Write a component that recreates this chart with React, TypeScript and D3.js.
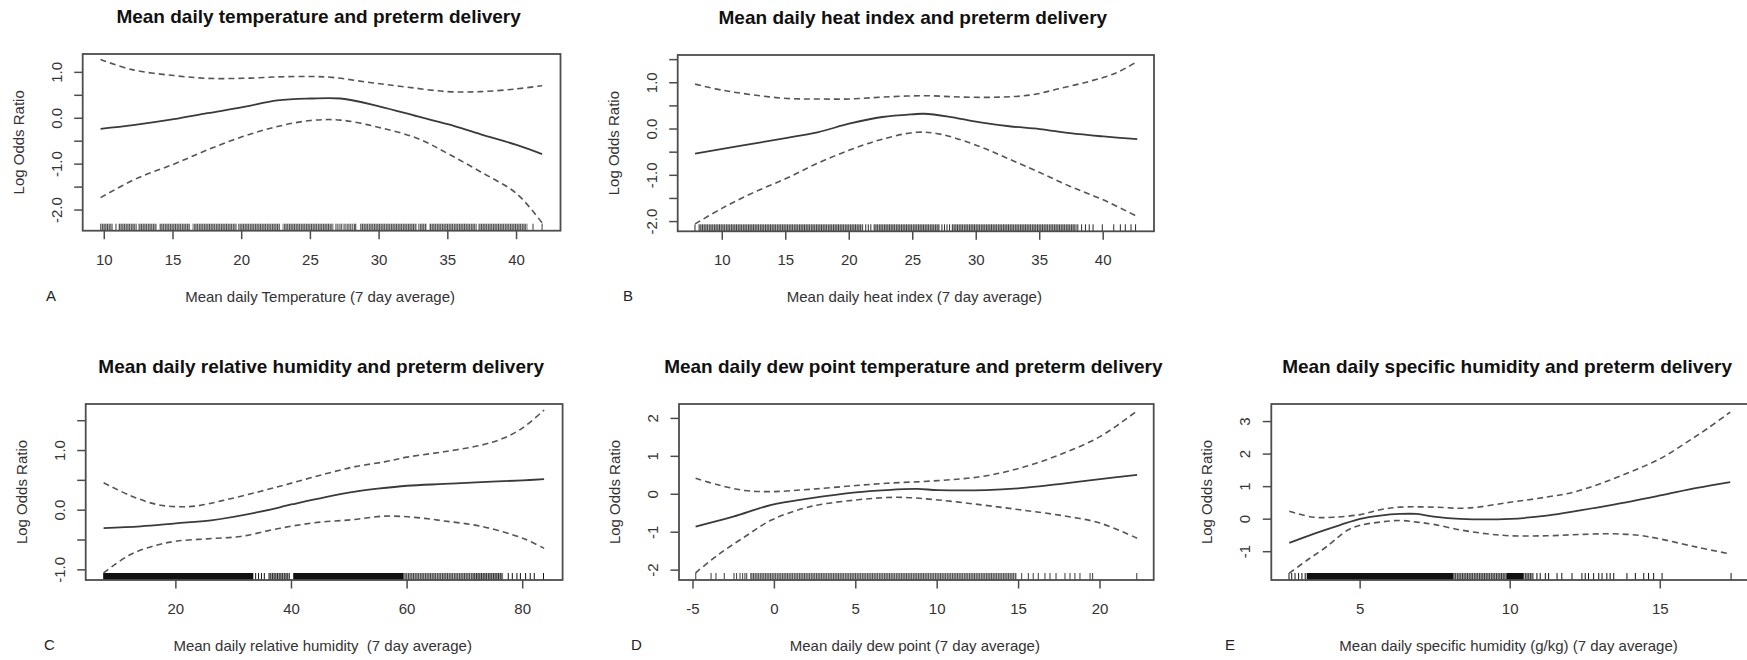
import React from 'react';
import * as d3 from 'd3';

type Pt = [number, number];
type Span = [number, number, number]; // from, to, density

// A: mean daily temperature
const tempFit: Pt[] = [[9.73, -0.23], [12.1, -0.15], [15.06, -0.02], [17.5, 0.11], [20.07, 0.24], [22.6, 0.39], [25.0, 0.43], [27.2, 0.43], [30.0, 0.26], [32.8, 0.04], [35.0, -0.13], [37.4, -0.35], [40, -0.58], [41.86, -0.78]];
const tempUpper: Pt[] = [[9.73, 1.28], [12, 1.06], [15.06, 0.93], [17.5, 0.87], [20.07, 0.87], [22.6, 0.9], [25, 0.91], [26.6, 0.89], [29.3, 0.78], [32, 0.68], [35, 0.58], [37.4, 0.58], [40, 0.64], [41.86, 0.71]];
const tempLower: Pt[] = [[9.73, -1.73], [12.37, -1.31], [15.06, -1.0], [17.5, -0.69], [20.07, -0.4], [22.6, -0.18], [25, -0.05], [27.2, -0.04], [30, -0.2], [32.8, -0.44], [35, -0.77], [37.4, -1.17], [40, -1.64], [41.86, -2.28]];
const tempRugSpans: Span[] = [[9.69, 10.61, 0.9], [11.02, 12.36, 0.9], [12.48, 13.81, 0.9], [14.0, 16.24, 0.9], [16.43, 19.63, 0.9], [19.75, 22.79, 0.9], [22.98, 26.67, 0.9], [27.54, 28.12, 0.8], [28.61, 32.73, 0.9], [32.85, 33.46, 0.9], [33.65, 37.1, 0.9], [37.22, 40.79, 0.9]];
const tempRugTicks = [10.85, 26.86, 27.0, 27.15, 27.28, 27.45, 28.2, 28.3, 41.2, 41.86];
const tempXTicks = [10, 15, 20, 25, 30, 35, 40];
const tempYTicks = [-2, -1.5, -1, -0.5, 0, 0.5, 1];
const tempYLabels = [-2, -1, 0, 1];

// B: mean daily heat index
const heatFit: Pt[] = [[7.86, -0.53], [11.5, -0.36], [15.1, -0.19], [17.5, -0.07], [20.07, 0.12], [22.6, 0.26], [25.04, 0.32], [25.9, 0.33], [27.8, 0.27], [30.2, 0.15], [32.6, 0.06], [35, 0.0], [37.4, -0.09], [40, -0.16], [42.68, -0.22]];
const heatUpper: Pt[] = [[7.86, 0.97], [10, 0.84], [12.4, 0.74], [15.1, 0.66], [17.5, 0.65], [20.07, 0.65], [22.6, 0.69], [25.9, 0.72], [29, 0.69], [32, 0.69], [34.4, 0.74], [36.5, 0.87], [38.9, 1.03], [41, 1.21], [42.68, 1.46]];
const heatLower: Pt[] = [[7.86, -2.05], [10, -1.71], [12.4, -1.38], [15.1, -1.06], [17.5, -0.74], [20.07, -0.45], [22.6, -0.22], [25.3, -0.07], [27.15, -0.11], [30.2, -0.37], [32.6, -0.65], [35, -0.94], [37.4, -1.24], [40, -1.53], [42.68, -1.89]];
const heatRugSpans: Span[] = [[8.11, 21.1, 0.9], [21.89, 27.14, 0.9], [28.06, 37.9, 0.9]];
const heatRugTicks = [7.85, 21.3, 21.5, 21.7, 27.3, 27.5, 27.7, 27.9, 38.0, 38.3, 38.6, 38.9, 39.2, 39.93, 40.83, 41.35, 41.74, 42.19, 42.55];
const heatXTicks = [10, 15, 20, 25, 30, 35, 40];
const heatYTicks = [-2, -1.5, -1, -0.5, 0, 0.5, 1, 1.5];
const heatYLabels = [-2, -1, 0, 1];

// C: mean daily relative humidity
const rhFit: Pt[] = [[7.5, -0.3], [13.9, -0.27], [20, -0.22], [26.1, -0.17], [34.4, -0.03], [40.2, 0.1], [45.9, 0.22], [51, 0.31], [54.9, 0.36], [60, 0.41], [66.4, 0.44], [72.8, 0.47], [80, 0.5], [83.7, 0.52]];
const rhUpper: Pt[] = [[7.5, 0.46], [12, 0.25], [16.5, 0.1], [20, 0.06], [23.5, 0.07], [28, 0.16], [34.4, 0.31], [40.2, 0.46], [45.9, 0.61], [51, 0.73], [56.1, 0.81], [60, 0.89], [66.4, 0.98], [72.8, 1.09], [76.5, 1.2], [80, 1.38], [83.7, 1.68]];
const rhLower: Pt[] = [[7.5, -1.05], [12, -0.75], [16.5, -0.59], [20, -0.52], [25.4, -0.48], [31.2, -0.44], [37.6, -0.31], [44, -0.21], [50.4, -0.16], [56.1, -0.1], [61.3, -0.12], [66.4, -0.18], [72.8, -0.27], [80, -0.47], [83.7, -0.64]];
const rhRugSpans: Span[] = [[7.42, 33.4, 1], [35.97, 39.72, 0.9], [40.3, 59.3, 1], [59.3, 71.4, 0.8], [71.4, 76.6, 0.9]];
const rhRugTicks = [33.8, 34.3, 34.8, 35.3, 77.5, 78.2, 79.0, 79.6, 80.5, 81.3, 82.0, 83.6];
const rhXTicks = [20, 40, 60, 80];
const rhYTicks = [-1, -0.5, 0, 0.5, 1, 1.5];
const rhYLabels = [-1, 0, 1];

// D: mean daily dew point
const dewFit: Pt[] = [[-4.84, -0.85], [-2.53, -0.59], [-0.18, -0.28], [2.17, -0.11], [5.0, 0.05], [6.88, 0.11], [8.76, 0.14], [10.05, 0.11], [13, 0.11], [15.1, 0.16], [17.5, 0.27], [20, 0.4], [22.28, 0.51]];
const dewUpper: Pt[] = [[-4.84, 0.42], [-3.47, 0.25], [-1.82, 0.1], [-0.18, 0.07], [2.17, 0.13], [5.0, 0.23], [6.88, 0.29], [10.05, 0.36], [12.75, 0.47], [15.1, 0.69], [17.5, 1.04], [20, 1.52], [22.28, 2.2]];
const dewLower: Pt[] = [[-4.84, -2.07], [-3.47, -1.6], [-1.82, -1.12], [-0.18, -0.68], [2.17, -0.33], [5, -0.15], [7.58, -0.08], [10.05, -0.15], [12.75, -0.28], [15.1, -0.41], [17.5, -0.55], [20, -0.76], [22.28, -1.16]];
const dewRugSpans: Span[] = [[-1.5, 14.88, 0.9]];
const dewRugTicks = [-4.83, -3.89, -3.59, -3.08, -2.48, -2.32, -2.11, -1.95, -1.81, -1.7, 15.19, 15.6, 15.9, 16.21, 16.62, 16.93, 17.3, 17.85, 18.16, 18.46, 18.77, 19.39, 19.55, 22.26];
const dewXTicks = [-5, 0, 5, 10, 15, 20];
const dewYTicks = [-2, -1, 0, 1, 2];
const dewYLabels = [-2, -1, 0, 1, 2];

// E: mean daily specific humidity
const shFit: Pt[] = [[2.64, -0.73], [3.45, -0.45], [4.33, -0.18], [5.0, 0.01], [5.67, 0.11], [6.33, 0.16], [6.89, 0.16], [7.45, 0.08], [8.33, 0.01], [10, 0.01], [11.22, 0.11], [12.33, 0.27], [13.45, 0.45], [15.0, 0.73], [16.22, 0.96], [17.33, 1.14]];
const shUpper: Pt[] = [[2.64, 0.24], [3.45, 0.06], [4.11, 0.06], [5.0, 0.14], [5.67, 0.29], [6.33, 0.37], [7.45, 0.37], [8.56, 0.34], [10, 0.52], [11.22, 0.68], [12.11, 0.83], [13.0, 1.09], [14.0, 1.45], [15.0, 1.86], [15.89, 2.37], [16.56, 2.78], [17.33, 3.29]];
const shLower: Pt[] = [[2.64, -1.66], [3.22, -1.27], [3.89, -0.84], [4.56, -0.35], [5.0, -0.19], [5.67, -0.09], [6.33, -0.04], [6.89, -0.09], [7.45, -0.16], [8.33, -0.33], [9.22, -0.45], [10, -0.51], [11.22, -0.51], [12.33, -0.47], [13.45, -0.45], [14.33, -0.5], [15, -0.61], [16.22, -0.86], [17.33, -1.07]];
const shRugSpans: Span[] = [[3.22, 8.11, 1], [8.11, 9.89, 0.85], [9.89, 10.45, 1], [10.45, 10.78, 0.85]];
const shRugTicks = [2.63, 2.72, 2.83, 2.95, 3.06, 3.17, 10.89, 11.0, 11.17, 11.28, 11.56, 11.72, 12.06, 12.39, 12.5, 12.61, 12.78, 12.95, 13.06, 13.22, 13.33, 13.45, 13.89, 14.17, 14.45, 14.61, 14.78, 15.06, 17.36];
const shXTicks = [5, 10, 15];
const shYTicks = [-1, 0, 1, 2, 3];
const shYLabels = [-1, 0, 1, 2, 3];

interface Panel {
  letter: string;
  title: string;
  xLabel: string;
  box: [number, number, number, number];
  xDomain: [number, number];
  yDomain: [number, number];
  xTicks: number[];
  yTicks: number[];
  yLabels: number[];
  decimals: number;
  fit: Pt[];
  upper: Pt[];
  lower: Pt[];
  rugSpans: Span[];
  rugTicks: number[];
  rugColor: string;
  letterX: number;
}

const panels: Panel[] = [
  { letter: 'A', title: 'Mean daily temperature and preterm delivery', xLabel: 'Mean daily Temperature (7 day average)',
    box: [82.7, 54, 560.5, 230.7], xDomain: [8.43, 43.2], yDomain: [-2.45, 1.4],
    xTicks: tempXTicks, yTicks: tempYTicks, yLabels: tempYLabels, decimals: 1,
    fit: tempFit, upper: tempUpper, lower: tempLower, rugSpans: tempRugSpans, rugTicks: tempRugTicks, rugColor: '#3a3a3a', letterX: 46 },
  { letter: 'B', title: 'Mean daily heat index and preterm delivery', xLabel: 'Mean daily heat index (7 day average)',
    box: [677.7, 55, 1154, 231.3], xDomain: [6.49, 44.0], yDomain: [-2.21, 1.6],
    xTicks: heatXTicks, yTicks: heatYTicks, yLabels: heatYLabels, decimals: 1,
    fit: heatFit, upper: heatUpper, lower: heatLower, rugSpans: heatRugSpans, rugTicks: heatRugTicks, rugColor: '#2a2a2a', letterX: 623 },
  { letter: 'C', title: 'Mean daily relative humidity and preterm delivery', xLabel: 'Mean daily relative humidity  (7 day average)',
    box: [85.7, 404, 562.6, 580], xDomain: [4.4, 86.9], yDomain: [-1.17, 1.78],
    xTicks: rhXTicks, yTicks: rhYTicks, yLabels: rhYLabels, decimals: 1,
    fit: rhFit, upper: rhUpper, lower: rhLower, rugSpans: rhRugSpans, rugTicks: rhRugTicks, rugColor: '#111', letterX: 44 },
  { letter: 'D', title: 'Mean daily dew point temperature and preterm delivery', xLabel: 'Mean daily dew point (7 day average)',
    box: [679, 404, 1153.7, 580], xDomain: [-5.86, 23.3], yDomain: [-2.26, 2.38],
    xTicks: dewXTicks, yTicks: dewYTicks, yLabels: dewYLabels, decimals: 0,
    fit: dewFit, upper: dewUpper, lower: dewLower, rugSpans: dewRugSpans, rugTicks: dewRugTicks, rugColor: '#3a3a3a', letterX: 631 },
  { letter: 'E', title: 'Mean daily specific humidity and preterm delivery', xLabel: 'Mean daily specific humidity (g/kg) (7 day average)',
    box: [1271.3, 404, 1748.8, 580], xDomain: [2.04, 17.95], yDomain: [-1.87, 3.54],
    xTicks: shXTicks, yTicks: shYTicks, yLabels: shYLabels, decimals: 0,
    fit: shFit, upper: shUpper, lower: shLower, rugSpans: shRugSpans, rugTicks: shRugTicks, rugColor: '#111', letterX: 1225 },
];

const FONT = '"Liberation Sans", Arial, sans-serif';
const TEXT = '#333';

const PanelPlot = ({ p }: { p: Panel }) => {
  const [left, top, right, bottom] = p.box;
  const x = d3.scaleLinear().domain(p.xDomain).range([left, right]);
  const y = d3.scaleLinear().domain(p.yDomain).range([bottom, top]);
  const line = d3.line<Pt>().x(d => x(d[0])).y(d => y(d[1])).curve(d3.curveCatmullRom.alpha(0.5));
  const cx = (left + right) / 2;
  const cy = (top + bottom) / 2;
  const rugH = 7;
  const patId = 'rug-' + p.letter;

  return (
    <g>
      <defs>
        {/* fine vertical hatching so packed rug blocks read like tick marks */}
        <pattern id={patId} width={1.7} height={rugH} patternUnits="userSpaceOnUse">
          <rect x={0} y={0} width={1.2} height={rugH} fill={p.rugColor} />
        </pattern>
      </defs>

      {/* rug: fully packed blocks solid, looser blocks hatched */}
      {p.rugSpans.map((s, i) => (
        <rect key={'s' + i} x={x(s[0])} y={bottom - rugH} width={x(s[1]) - x(s[0])} height={rugH}
          fill={s[2] >= 1 ? p.rugColor : `url(#${patId})`} fillOpacity={s[2]} />
      ))}
      {p.rugTicks.map((t, i) => (
        <line key={'t' + i} x1={x(t)} x2={x(t)} y1={bottom - rugH} y2={bottom} stroke={p.rugColor} strokeWidth={1} />
      ))}

      {/* curves */}
      <path d={line(p.upper) || ''} fill="none" stroke="#555" strokeWidth={1.6} strokeDasharray="6,4" />
      <path d={line(p.lower) || ''} fill="none" stroke="#555" strokeWidth={1.6} strokeDasharray="6,4" />
      <path d={line(p.fit) || ''} fill="none" stroke="#3a3a3a" strokeWidth={1.8} />

      {/* frame */}
      <rect x={left} y={top} width={right - left} height={bottom - top} fill="none" stroke="#4d4d4d" strokeWidth={1.8} />

      {/* x axis */}
      {p.xTicks.map(t => (
        <g key={'x' + t}>
          <line x1={x(t)} x2={x(t)} y1={bottom} y2={bottom + 8.5} stroke="#4d4d4d" strokeWidth={1.5} />
          <text x={x(t)} y={bottom + 34} textAnchor="middle" fontSize={15} fill={TEXT} fontFamily={FONT}>{String(t)}</text>
        </g>
      ))}

      {/* y axis */}
      {p.yTicks.map(t => (
        <line key={'y' + t} x1={left - 8.5} x2={left} y1={y(t)} y2={y(t)} stroke="#4d4d4d" strokeWidth={1.5} />
      ))}
      {p.yLabels.map(t => (
        <text key={'yl' + t} transform={`translate(${left - 21},${y(t)}) rotate(-90)`} textAnchor="middle"
          fontSize={15} fill={TEXT} fontFamily={FONT}>{t.toFixed(p.decimals)}</text>
      ))}

      {/* labels */}
      <text transform={`translate(${left - 59},${cy}) rotate(-90)`} textAnchor="middle" fontSize={15} fill={TEXT} fontFamily={FONT}>
        Log Odds Ratio
      </text>
      <text x={cx - 1.5} y={bottom + 71} textAnchor="middle" fontSize={15} fill={TEXT} fontFamily={FONT} style={{ whiteSpace: 'pre' }}>
        {p.xLabel}
      </text>
      <text x={cx - 3} y={top - 30.7} textAnchor="middle" fontSize={19} fontWeight="bold" fill="#111" fontFamily={FONT}>
        {p.title}
      </text>
      <text x={p.letterX} y={bottom + 70} fontSize={15} fill="#222" fontFamily={FONT}>{p.letter}</text>
    </g>
  );
};

export default function App() {
  return (
    <svg width={1747} height={660} style={{ position: 'absolute', left: 0, top: 0, background: '#fff' }}>
      <rect width={1747} height={660} fill="#fff" />
      {panels.map(p => <PanelPlot key={p.letter} p={p} />)}
    </svg>
  );
}
